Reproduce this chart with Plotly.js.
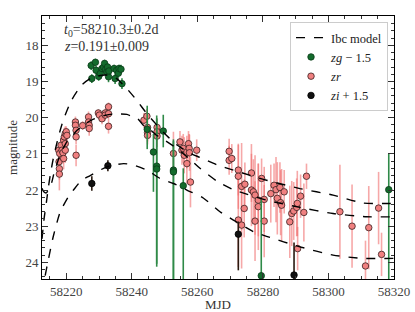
<!DOCTYPE html>
<html>
<head>
<meta charset="utf-8">
<script src="https://cdn.plot.ly/plotly-3.0.1.min.js"></script>
<style>html,body{margin:0;padding:0;background:#fff;}#chart{width:415px;height:312px;}</style>
</head>
<body>
<div id="chart"></div>
<script>
// ---- data ----
const gMJD = [58227.6,58228.9,58227.8,58229.1,58229.9,58230.4,58230.9,58231.4,58231.7,58232.0,58232.4,58232.6,58232.9,58233.0,58234.6,58234.9,58235.4,58235.9,58236.1,58236.7,58237.0,
              58244.7,58246.6,58247.6,58247.6,58249.6,58252.7,58252.7,58255.7,58279.5,58318.4];
const gMag = [18.56,18.47,18.92,18.69,18.86,18.78,18.64,18.60,18.50,18.67,18.74,18.60,18.87,18.71,18.64,18.92,18.69,18.77,18.64,18.66,19.06,
              20.32,20.95,21.34,21.42,20.37,21.45,21.50,21.88,24.37,21.99];
const gErrPlus = [0.12,0.10,0.12,0.12,0.12,0.10,0.10,0.12,0.10,0.12,0.12,0.10,0.15,0.12,0.10,0.15,0.12,0.12,0.10,0.12,0.15,
              0.55,1.10,2.70,2.70,0.45,3.50,3.50,3.00,2.10,2.60];
const gErrMinus = [0.12,0.10,0.12,0.12,0.12,0.10,0.10,0.12,0.10,0.12,0.12,0.10,0.15,0.12,0.10,0.15,0.12,0.12,0.10,0.12,0.15,
              0.65,0.50,1.40,1.40,0.45,0.85,0.85,0.48,2.10,1.00];

const rMJD = [58217.8,58217.9,58217.9,58217.7,58218.0,58218.4,58218.7,58219.0,58219.2,58219.2,58219.4,58219.7,58220.0,58220.2,58219.7,58219.7,
              58222.8,58222.8,58223.0,58223.0,58223.0,58225.0,58226.8,58226.8,58227.0,58227.0,58229.8,58230.1,58230.9,58231.9,58231.9,58232.9,58232.9,58232.9,
              58243.7,58244.6,58244.8,58244.8,58244.8,58247.7,58247.7,58247.7,58252.7,58254.7,58255.3,58255.7,58256.0,58256.8,58256.8,58257.3,58257.5,58257.6,58257.9,58259.8,
              58269.7,58269.7,58270.5,58272.5,58272.5,58273.5,58274.5,58274.3,58272.5,58273.5,58276.5,58276.5,58277.1,58277.6,58277.6,58278.6,58278.6,58279.6,58280.4,58280.4,
              58282.4,58283.4,58284.0,58284.4,58285.2,58285.4,58285.7,58286.5,58288.2,58288.8,58289.4,58290.3,58290.5,58291.5,58292.5,58293.3,58290.6,
              58303.5,58307.2,58311.3,58312.3,58315.3,58316.2];
const rMag = [21.22,21.41,21.56,20.90,20.99,20.76,20.90,20.97,21.13,20.62,20.53,20.44,20.39,20.49,20.72,20.90,
              20.12,20.21,20.35,20.53,21.04,20.22,19.98,20.12,20.21,20.30,19.87,19.93,20.03,19.87,19.93,19.70,19.89,20.24,
              20.07,19.96,20.27,20.41,20.49,20.27,20.39,20.51,20.99,20.67,20.90,20.85,21.04,20.95,21.27,20.72,20.85,20.97,21.78,20.90,
              20.93,21.18,21.13,21.45,21.62,21.90,21.84,22.51,22.83,22.97,21.53,22.00,22.05,22.14,22.86,22.28,22.46,21.68,22.26,22.86,
              22.10,21.87,21.99,22.23,21.93,22.35,22.42,22.05,22.88,22.65,22.58,22.48,22.37,22.17,22.62,21.62,23.62,
              22.60,23.00,24.10,23.04,22.50,23.78];
const rErr = [0.25,0.30,0.45,0.20,0.25,0.20,0.25,0.30,0.30,0.20,0.25,0.20,0.15,0.20,0.30,0.35,
              0.15,0.15,0.20,0.20,0.30,0.12,0.15,0.15,0.20,0.20,0.10,0.12,0.15,0.12,0.15,0.12,0.15,0.20,
              0.20,0.20,0.25,0.25,0.25,0.25,0.25,0.30,0.60,0.30,0.40,0.40,0.50,0.45,0.55,0.35,0.40,0.50,0.70,0.30,
              0.35,0.40,0.40,0.70,0.90,1.20,0.60,0.80,1.30,1.20,0.80,1.00,0.90,1.10,1.10,1.00,1.20,0.55,0.90,1.00,
              0.80,0.60,0.90,1.00,0.70,0.90,1.00,0.60,1.00,0.90,0.80,0.80,0.90,0.60,0.80,0.35,0.60,
              1.30,1.15,0.70,1.15,1.00,0.60];

const iMJD = [58227.8,58232.7,58272.5,58289.5];
const iMag = [21.82,21.33,23.22,24.35];
const iErrPlus = [0.20,0.15,1.00,0.90];
const iErrMinus = [0.20,0.15,0.35,0.90];

const modelGMJD = [58212.6,58213.3,58214.0,58214.5,58215.1,58216.0,58217.6,58219.1,58221.6,58224.7,58227.7,58230.4,58233.4,58235.4,58238.5,58241.5,58244.6,58247.6,58250.7,58253.7,58257.7,58260.8,58265.9,58271.0,58281.1,58291.3,58301.4,58310.6,58320.0];
const modelG = [23.35,22.75,22.30,21.95,21.60,21.15,20.53,20.07,19.52,19.10,18.90,18.83,18.83,18.92,19.20,19.52,19.89,20.20,20.50,20.75,20.98,21.10,21.30,21.45,21.73,21.96,22.14,22.36,22.37];

const modelRMJD = [58212.6,58213.15,58213.9,58214.7,58215.6,58216.35,58217.2,58218.2,58219.2,58220.3,58221.6,58223.3,58224.7,58226.3,58227.7,58230.4,58233.4,58236.45,58238.5,58240.5,58241.5,58243.5,58245.6,58247.4,58249.6,58253.7,58257.7,58260.8,58265.9,58271.0,58281.1,58291.3,58301.4,58311.6,58320.0];
const modelR = [21.95,22.05,22.08,21.98,21.78,21.50,21.27,21.00,20.83,20.65,20.53,20.35,20.26,20.14,20.07,19.97,19.91,19.90,19.91,19.98,20.00,20.21,20.33,20.48,20.60,20.85,21.15,21.40,21.75,21.99,22.28,22.48,22.65,22.74,22.74];

const modelIMJD = [58212.6,58213.5,58214.5,58216.0,58218.1,58220.6,58222.2,58224.7,58227.3,58232.4,58237.5,58240.5,58244.6,58248.6,58252.7,58256.8,58261.8,58266.9,58271.0,58277.1,58281.1,58291.3,58301.4,58310.6,58320.0];
const modelI = [24.85,24.40,23.94,23.30,22.62,22.19,22.00,21.73,21.60,21.36,21.27,21.31,21.45,21.68,21.82,22.00,22.22,22.60,22.83,23.15,23.28,23.57,23.80,23.89,23.89];

const xTicks = [58220,58240,58260,58280,58300,58320];
const yTicks = [18,19,20,21,22,23,24];

const serif = "Liberation Serif, DejaVu Serif, serif";

const dashLine = {color:'#000', width:1.4, dash:'dash', shape:'spline', smoothing:0.6};
const traces = [
  {x:rMJD, y:rMag, type:'scatter', mode:'markers', name:'<i>zr</i>',
   marker:{color:'#f08080', size:6.5, line:{color:'#3a2020', width:0.8}},
   error_y:{type:'data', array:rErr, color:'rgba(240,110,110,0.6)', thickness:1.6, width:0},
   legendrank:3},
  {x:gMJD, y:gMag, type:'scatter', mode:'markers', name:'<i>zg</i> \u2212 1.5',
   marker:{color:'#136b2c', size:6.5, line:{color:'#0a3a18', width:0.8}},
   error_y:{type:'data', symmetric:false, array:gErrPlus, arrayminus:gErrMinus, color:'#2f8a48', thickness:1.6, width:0},
   legendrank:2},
  {x:iMJD, y:iMag, type:'scatter', mode:'markers', name:'<i>zi</i> + 1.5',
   marker:{color:'#111', size:6.5, line:{color:'#000', width:0.8}},
   error_y:{type:'data', symmetric:false, array:iErrPlus, arrayminus:iErrMinus, color:'#2a1a10', thickness:1.6, width:0},
   legendrank:4},
  {x:modelGMJD, y:modelG, type:'scatter', mode:'lines', name:'Ibc model', line:dashLine, legendgroup:'m', legendrank:1},
  {x:modelRMJD, y:modelR, type:'scatter', mode:'lines', name:'Ibc model', line:dashLine, legendgroup:'m', showlegend:false},
  {x:modelIMJD, y:modelI, type:'scatter', mode:'lines', name:'Ibc model', line:dashLine, legendgroup:'m', showlegend:false}
];

const axisCommon = {
  showline:true, linecolor:'#000', linewidth:1, mirror:'allticks',
  ticks:'inside', ticklen:6, tickwidth:1, tickcolor:'#333',
  showgrid:false, zeroline:false,
  tickfont:{family:serif, size:13, color:'#444'}
};

const layout = {
  width:415, height:312,
  margin:{l:42, r:21, t:16, b:33},
  paper_bgcolor:'#fff', plot_bgcolor:'#fff',
  showlegend:true,
  legend:{x:0.983, y:0.977, xanchor:'right', yanchor:'top', bgcolor:'#fff', bordercolor:'#ccc', borderwidth:1,
          font:{family:serif, size:12.5, color:'#222'}, tracegroupgap:0, itemwidth:30},
  xaxis:Object.assign({}, axisCommon, {
    range:[58212.6, 58320], tickvals:xTicks, ticktext:xTicks.map(String),
    minor:{dtick:5, ticklen:3, tickcolor:'#333', ticks:'inside'},
    title:{text:'MJD', font:{family:serif, size:13, color:'#333'}, standoff:2}
  }),
  yaxis:Object.assign({}, axisCommon, {
    range:[24.46, 17.19], tickvals:yTicks, ticktext:yTicks.map(String),
    minor:{dtick:0.2, ticklen:3, tickcolor:'#333', ticks:'inside'},
    title:{text:'magnitude', font:{family:serif, size:13, color:'#333'}, standoff:4}
  }),
  annotations:[
    {xref:'paper', yref:'paper', x:0.058, y:0.985, xanchor:'left', yanchor:'top', showarrow:false,
     text:'<i>t</i><sub>0</sub>=58210.3\u00b10.2d', font:{family:serif, size:14, color:'#333'}},
    {xref:'paper', yref:'paper', x:0.058, y:0.92, xanchor:'left', yanchor:'top', showarrow:false,
     text:'<i>z</i>=0.191\u00b10.009', font:{family:serif, size:14, color:'#333'}}
  ]
};

Plotly.newPlot('chart', traces, layout, {staticPlot:true, displayModeBar:false});
</script>
</body>
</html>
